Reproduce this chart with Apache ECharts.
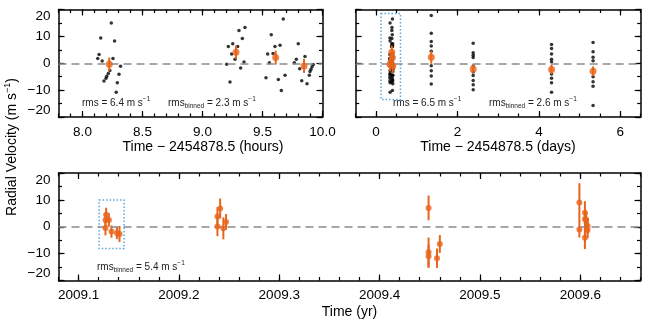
<!DOCTYPE html>
<html>
<head>
<meta charset="utf-8">
<script src="https://cdn.jsdelivr.net/npm/echarts@6/dist/echarts.min.js"></script>
<style>
  html, body { margin: 0; padding: 0; background: #fff; }
  #chart { width: 653px; height: 327px; }
</style>
</head>
<body>
<div id="chart"></div>
<script>
// night of 2454878.5, single exposures (hours)
const hourT = [8.127, 8.138, 8.152, 8.164, 8.179, 8.196, 8.202, 8.215, 8.228, 8.240, 8.254, 8.267, 8.281, 8.290, 8.304, 8.317,
  9.202, 9.215, 9.229, 9.243, 9.252, 9.271, 9.293, 9.304, 9.318, 9.332, 9.346, 9.354,
  9.529, 9.543, 9.557, 9.573, 9.588, 9.604, 9.632, 9.646, 9.657, 9.673, 9.688,
  9.765, 9.782, 9.798, 9.810, 9.827, 9.854, 9.871, 9.890, 9.896, 9.904, 9.913, 9.923]
const hourRV = [1.8, 3.3, 9.4, 0.8, -6.6, -5.6, -4.8, -3.8, -2.7, 15.0, 1.8, 8.3, -10.8, -7.3, -4.1, -1.1,
  -0.4, 6.2, -7.0, 3.4, 7.3, 1.5, 6.2, 12.2, -1.8, 9.2, 0.5, 13.3,
  -5.4, 3.4, 0.2, 10.6, 3.6, 6.2, -6.0, 6.7, -10.1, 16.5, -4.5,
  0.2, 1.5, 7.3, -2.0, -6.5, 2.5, -7.6, -4.5, -3.1, -2.2, -1.3, -0.5]
const hourBinT = [8.223, 9.279, 9.610, 9.846]
const hourBinRV = [-0.4, 4.1, 2.1, -1.0]
const hourBinErr = [2.5, 2.5, 2.6, 2.6]

// later nights (days)
const dayT = [1.356, 1.356, 1.356, 1.356, 1.356, 1.356, 1.356, 1.356, 1.356,
  2.386, 2.386, 2.386, 2.386, 2.386, 2.386, 2.386, 2.386, 2.386, 2.386,
  4.31, 4.31, 4.31, 4.31, 4.31, 4.31, 4.31, 4.31, 4.31,
  5.33, 5.33, 5.33, 5.33, 5.33, 5.33, 5.33, 5.33]
const dayRV = [17.8, 11.2, 8.1, 6.4, 4.5, -0.9, -2.8, -4.7, -7.7,
  7.4, 3.9, 3.0, 2.1, -1.0, -3.3, -4.6, -6.4, -8.0, -9.9,
  7.0, 5.5, 3.4, 1.5, 0.6, -4.0, -5.6, -7.3, -10.8,
  7.7, 4.3, 2.2, 0.9, -5.0, -6.9, -8.6, -15.7]
const dayBinT = [1.356, 2.386, 4.31, 5.33]
const dayBinRV = [2.2, -2.1, -2.3, -3.0]
const dayBinErr = [2.4, 1.7, 1.7, 1.8]

// binned velocities by date (yr)
const yrT = [2009.1275, 2009.1268, 2009.1302, 2009.1268, 2009.1328, 2009.1382, 2009.1408,
  2009.2411, 2009.2384, 2009.2384, 2009.2443, 2009.2470,
  2009.4488, 2009.4488, 2009.4488, 2009.4572, 2009.4600,
  2009.5991, 2009.5991, 2009.6046, 2009.6046, 2009.6059, 2009.6073, 2009.6073, 2009.6046]
const yrRV = [4.5, 2.5, 2.5, -0.5, -1.8, -2.3, -2.7,
  6.8, 3.8, 0.1, -0.6, 1.8,
  7.0, -9.5, -11.0, -11.7, -6.4,
  9.0, -1.0, 5.2, 2.9, 2.5, 0.3, -1.2, -4.1]
const yrErr = [2.6, 2.5, 2.5, 2.7, 2.3, 2.3, 3.0,
  3.7, 3.5, 3.6, 4.1, 2.9,
  4.6, 5.5, 4.3, 3.6, 3.3,
  7.2, 3.0, 4.3, 3.0, 3.0, 3.0, 3.0, 4.2]

// dotted boxes: [t0, t1] and [rv0, rv1]
const boxDayT = [0.12, 0.60]
const boxDayRV = [-13.5, 18.5]
const boxYrT = [2009.1205, 2009.1454]
const boxYrRV = [-8.1, 10.0]

// axes
const hourRange = [7.8, 10.0]
const dayRange = [-0.5, 6.5]
const yrRange = [2009.08, 2009.66]
const rvRange = [-20, 20]
const hourTicks = [8.0, 8.5, 9.0, 9.5, 10.0]
const dayTicks = [0, 2, 4, 6]
const yrTicks = [2009.1, 2009.2, 2009.3, 2009.4, 2009.5, 2009.6]
const rvTicks = [-20, -10, 0, 10, 20]

const FONT = 'Liberation Sans'
const ORANGE = '#e8641b'

function steps(a, b, s) {
  const out = []
  for (let v = a; v <= b + s / 1000; v += s) out.push(Math.round(v * 1e6) / 1e6)
  return out
}
function zip(...cols) {
  return cols[0].map((_, i) => cols.map(c => c[i]))
}

const xAxes = []
const yAxes = []

function tickAxis(grid, pos, range, ticks, len, fmt, line) {
  const ax = {
    type: 'value', gridIndex: grid, position: pos, min: range[0], max: range[1],
    splitLine: { show: false },
    axisLine: { show: line, onZero: false, lineStyle: { color: '#000', width: 1.5 } },
    axisTick: { show: true, inside: true, length: len, customValues: ticks, lineStyle: { color: '#000', width: 1.2 } },
    axisLabel: { show: false },
  }
  if (fmt) {
    ax.axisLabel = {
      show: true, customValues: ticks, formatter: fmt, color: '#000',
      fontSize: 13.5, fontFamily: FONT, margin: 8,
    }
    // keep the end labels of the velocity axis inside the frame
    if (pos === 'left') {
      ax.axisLabel.verticalAlignMinLabel = 'bottom'
      ax.axisLabel.verticalAlignMaxLabel = 'top'
    }
  }
  return ax
}

function frame(grid, xr, xMaj, xMin, xFmt, yFmt) {
  const xi = xAxes.length
  const yi = yAxes.length
  xAxes.push(
    tickAxis(grid, 'bottom', xr, xMaj, 6, xFmt, true),
    tickAxis(grid, 'bottom', xr, xMin, 3.5, null, false),
    tickAxis(grid, 'top', xr, xMaj, 6, null, true),
    tickAxis(grid, 'top', xr, xMin, 3.5, null, false),
  )
  const rvMinor = steps(rvRange[0], rvRange[1], 5)
  yAxes.push(
    tickAxis(grid, 'left', rvRange, rvTicks, 6, yFmt, true),
    tickAxis(grid, 'left', rvRange, rvMinor, 3.5, null, false),
    tickAxis(grid, 'right', rvRange, rvTicks, 6, null, true),
    tickAxis(grid, 'right', rvRange, rvMinor, 3.5, null, false),
  )
  return [xi, yi]
}

const rvFmt = v => (v < 0 ? '\u2212' + Math.abs(v) : String(v))
const g0 = frame(0, hourRange, hourTicks, steps(7.8, 10.0, 0.1), v => v.toFixed(1), rvFmt)
const g1 = frame(1, dayRange, dayTicks, steps(-0.5, 6.5, 0.5), v => String(v), null)
const g2 = frame(2, yrRange, yrTicks, steps(2009.08, 2009.66, 0.02), v => v.toFixed(1), rvFmt)

const zeroLine = {
  silent: true, symbol: 'none', label: { show: false },
  lineStyle: { color: '#8a8a8a', type: [8, 5], width: 1.5 },
  data: [{ yAxis: 0 }],
}
function boxArea(t, rv) {
  return {
    silent: true,
    itemStyle: { color: 'rgba(0,0,0,0)', borderColor: '#5aa6dd', borderWidth: 1.5, borderType: [1.5, 2] },
    data: [[{ coord: [t[0], rv[1]] }, { coord: [t[1], rv[0]] }]],
  }
}
function errBar(params, api) {
  const lo = api.coord([api.value(0), api.value(1) - api.value(2)])
  const hi = api.coord([api.value(0), api.value(1) + api.value(2)])
  return {
    type: 'line',
    shape: { x1: lo[0], y1: lo[1], x2: hi[0], y2: hi[1] },
    style: { stroke: ORANGE, lineWidth: 2 },
  }
}
function dots(g, data, extra) {
  return Object.assign({
    type: 'scatter', xAxisIndex: g[0], yAxisIndex: g[1], data: data,
    symbolSize: 3.5, itemStyle: { color: '#000' }, z: 3,
  }, extra || {})
}
function binned(g, t, rv, err, size) {
  return [
    { type: 'custom', xAxisIndex: g[0], yAxisIndex: g[1], data: zip(t, rv, err),
      encode: { x: 0, y: 1 }, renderItem: errBar, z: 4 },
    { type: 'scatter', xAxisIndex: g[0], yAxisIndex: g[1], data: zip(t, rv),
      symbolSize: size, itemStyle: { color: ORANGE }, z: 5 },
  ]
}

const rich = {
  sub: { fontSize: 6.5, fontFamily: FONT, fill: '#222', verticalAlign: 'bottom', lineHeight: 7 },
  sup: { fontSize: 6.5, fontFamily: FONT, fill: '#222', verticalAlign: 'top', lineHeight: 7 },
}
function rmsText(x, y, binnedLabel, val) {
  return {
    type: 'text', x: x, y: y,
    style: {
      text: (binnedLabel ? 'rms{sub|binned}' : 'rms') + ' = ' + val + ' m s{sup|\u22121}',
      fontSize: 10, fontFamily: FONT, fill: '#222', verticalAlign: 'middle', lineHeight: 14, rich: rich,
    },
  }
}
function title(x, y, text, rot) {
  return {
    type: 'text', x: x, y: y, rotation: rot || 0,
    style: {
      text: text, fontSize: 14, fontFamily: FONT, fill: '#000', align: 'center', verticalAlign: 'middle',
      lineHeight: 18,
      rich: { sup: { fontSize: 9, fontFamily: FONT, fill: '#000', verticalAlign: 'top', lineHeight: 9 } },
    },
  }
}

const chart = echarts.init(document.getElementById('chart'))
const option = {
  animation: false,
  backgroundColor: '#fff',
  grid: [
    { left: 58.5, top: 9.5, width: 264, height: 107.5, outerBoundsMode: 'none' },
    { left: 355.7, top: 9.5, width: 285, height: 107.5, outerBoundsMode: 'none' },
    { left: 58.5, top: 173, width: 582, height: 107.5, outerBoundsMode: 'none' },
  ],
  xAxis: xAxes,
  yAxis: yAxes,
  series: [
    dots(g0, zip(hourT, hourRV), { markLine: zeroLine }),
    ...binned(g0, hourBinT, hourBinRV, hourBinErr, 7),
    dots(g1, zip(hourT.map(h => h / 24).concat(dayT), hourRV.concat(dayRV)),
      { markLine: zeroLine, markArea: boxArea(boxDayT, boxDayRV) }),
    ...binned(g1, hourBinT.map(h => h / 24).concat(dayBinT), hourBinRV.concat(dayBinRV), hourBinErr.concat(dayBinErr), 7),
    ...binned(g2, yrT, yrRV, yrErr, 6),
    dots(g2, [], { markLine: zeroLine, markArea: boxArea(boxYrT, boxYrRV) }),
  ],
  graphic: [
    rmsText(82, 103, false, '6.4'),
    rmsText(168, 103, true, '2.3'),
    rmsText(393, 103, false, '6.5'),
    rmsText(489, 103, true, '2.6'),
    rmsText(97, 267, true, '5.4'),
    title(203, 147, 'Time \u2212 2454878.5 (hours)'),
    title(498, 147, 'Time \u2212 2454878.5 (days)'),
    title(349.5, 312, 'Time (yr)'),
    title(12, 147, 'Radial Velocity (m s{sup|\u22121})', Math.PI / 2),
  ],
}
chart.setOption(option)
</script>
</body>
</html>
